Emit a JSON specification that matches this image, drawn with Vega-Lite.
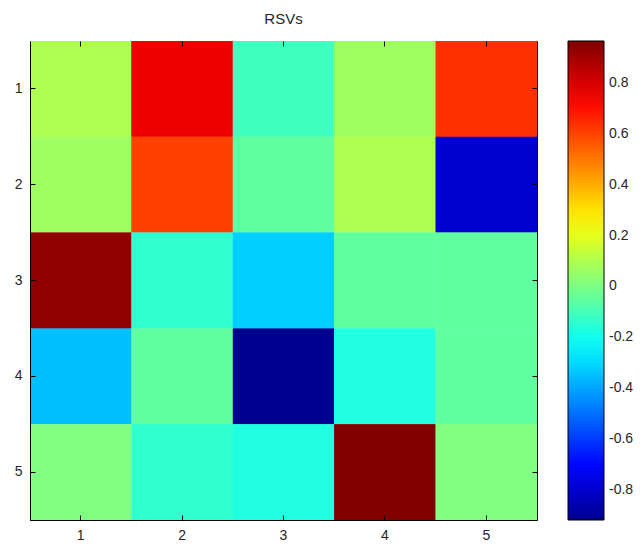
{
  "$schema": "https://vega.github.io/schema/vega-lite/v6.json",
  "autosize": {"type": "none"},
  "padding": {"left": 30, "top": 41, "right": 106, "bottom": 27},
  "width": 507,
  "height": 479,
  "background": "white",
  "title": {"text": "RSVs", "fontSize": 15, "font": "Liberation Sans", "fontWeight": "normal", "color": "#262626", "offset": 14},
  "config": {
    "font": "Liberation Sans",
    "view": {"stroke": "#000", "strokeWidth": 1},
    "axis": {"grid": false}
  },
  "data": {
    "values": [
      {"row": 1, "col": 1, "value": 0.098},
      {"row": 1, "col": 2, "value": 0.757},
      {"row": 1, "col": 3, "value": -0.112},
      {"row": 1, "col": 4, "value": 0.068},
      {"row": 1, "col": 5, "value": 0.637},
      {"row": 2, "col": 1, "value": 0.068},
      {"row": 2, "col": 2, "value": 0.607},
      {"row": 2, "col": 3, "value": -0.052},
      {"row": 2, "col": 4, "value": 0.098},
      {"row": 2, "col": 5, "value": -0.800},
      {"row": 3, "col": 1, "value": 0.936},
      {"row": 3, "col": 2, "value": -0.142},
      {"row": 3, "col": 3, "value": -0.321},
      {"row": 3, "col": 4, "value": -0.052},
      {"row": 3, "col": 5, "value": -0.052},
      {"row": 4, "col": 1, "value": -0.351},
      {"row": 4, "col": 2, "value": -0.052},
      {"row": 4, "col": 3, "value": -0.920},
      {"row": 4, "col": 4, "value": -0.172},
      {"row": 4, "col": 5, "value": -0.052},
      {"row": 5, "col": 1, "value": 0.008},
      {"row": 5, "col": 2, "value": -0.142},
      {"row": 5, "col": 3, "value": -0.172},
      {"row": 5, "col": 4, "value": 0.966},
      {"row": 5, "col": 5, "value": 0.008}
    ]
  },
  "encoding": {
    "x": {
      "field": "col", "type": "ordinal",
      "scale": {"paddingInner": 0, "paddingOuter": 0}
    },
    "y": {
      "field": "row", "type": "ordinal",
      "scale": {"paddingInner": 0, "paddingOuter": 0}
    }
  },
  "layer": [
    {
      "mark": {"type": "rect"},
      "encoding": {
        "x": {
          "field": "col", "type": "ordinal",
          "axis": {"orient": "bottom", "title": null, "labelAngle": 0, "tickSize": -5, "labelPadding": 13, "domainColor": "#000", "tickColor": "#000", "labelFontSize": 14, "labelColor": "#262626", "labelFont": "Liberation Sans"}
        },
        "y": {
          "field": "row", "type": "ordinal",
          "axis": {"orient": "left", "title": null, "tickSize": -5, "labelPadding": 13, "domainColor": "#000", "tickColor": "#000", "labelFontSize": 14, "labelColor": "#262626", "labelFont": "Liberation Sans"}
        },
        "color": {
          "field": "value", "type": "quantitative",
          "scale": {
            "type": "linear",
            "domain": [-0.92, -0.8901, -0.8601, -0.8302, -0.8003, -0.7703, -0.7404, -0.7104, -0.6805, -0.6506, -0.6206, -0.5907, -0.5608, -0.5308, -0.5009, -0.4710, -0.4410, -0.4111, -0.3811, -0.3512, -0.3213, -0.2913, -0.2614, -0.2315, -0.2015, -0.1716, -0.1417, -0.1117, -0.0818, -0.0518, -0.0219, 0.0080, 0.0380, 0.0679, 0.0978, 0.1278, 0.1577, 0.1877, 0.2176, 0.2475, 0.2775, 0.3074, 0.3373, 0.3673, 0.3972, 0.4271, 0.4571, 0.4870, 0.5170, 0.5469, 0.5768, 0.6068, 0.6367, 0.6666, 0.6966, 0.7265, 0.7564, 0.7864, 0.8163, 0.8463, 0.8762, 0.9061, 0.9361, 0.966],
            "range": ["#00008f", "#00009f", "#0000af", "#0000bf", "#0000cf", "#0000df", "#0000ef", "#0000ff", "#0010ff", "#0020ff", "#0030ff", "#0040ff", "#0050ff", "#0060ff", "#0070ff", "#0080ff", "#008fff", "#009fff", "#00afff", "#00bfff", "#00cfff", "#00dfff", "#00efff", "#00ffff", "#10ffef", "#20ffdf", "#30ffcf", "#40ffbf", "#50ffaf", "#60ff9f", "#70ff8f", "#80ff80", "#8fff70", "#9fff60", "#afff50", "#bfff40", "#cfff30", "#dfff20", "#efff10", "#ffff00", "#ffef00", "#ffdf00", "#ffcf00", "#ffbf00", "#ffaf00", "#ff9f00", "#ff8f00", "#ff8000", "#ff7000", "#ff6000", "#ff5000", "#ff4000", "#ff3000", "#ff2000", "#ff1000", "#ff0000", "#ef0000", "#df0000", "#cf0000", "#bf0000", "#af0000", "#9f0000", "#8f0000", "#800000"]
          },
          "legend": {
            "type": "gradient",
            "direction": "vertical",
            "orient": "right",
            "offset": 30,
            "padding": 0,
            "title": null,
            "gradientLength": 479,
            "gradientThickness": 36,
            "gradientStrokeColor": "#000",
            "gradientStrokeWidth": 1,
            "values": [-0.8, -0.6, -0.4, -0.2, 0, 0.2, 0.4, 0.6, 0.8],
            "labelExpr": "datum.value < 0 ? '-' + format(-datum.value, '~g') : format(datum.value, '~g')",
            "labelOverlap": false,
            "labelFontSize": 14,
            "labelColor": "#262626",
            "labelFont": "Liberation Sans",
            "labelOffset": 5
          }
        }
      }
    },
    {
      "mark": {"type": "rect"},
      "encoding": {
        "color": {"field": "value", "type": "quantitative"},
        "x": {
          "field": "col", "type": "ordinal",
          "axis": {"orient": "top", "title": null, "labels": false, "tickSize": -5, "domain": false, "tickColor": "#000"}
        },
        "y": {
          "field": "row", "type": "ordinal",
          "axis": {"orient": "right", "title": null, "labels": false, "tickSize": -5, "domain": false, "tickColor": "#000"}
        }
      }
    }
  ],
  "resolve": {"axis": {"x": "independent", "y": "independent"}}
}
